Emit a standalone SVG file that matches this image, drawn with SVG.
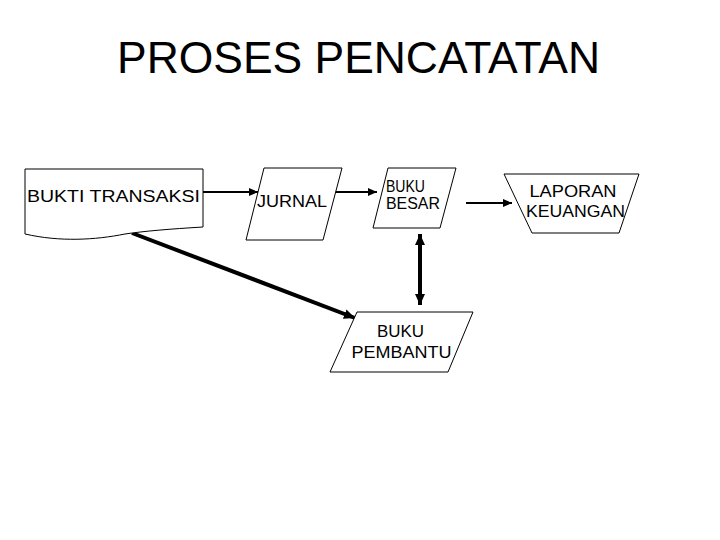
<svg xmlns="http://www.w3.org/2000/svg" width="720" height="540" viewBox="0 0 720 540">
<defs>
<style>
.shape{fill:#fff;stroke:#000;stroke-width:1}
.lbl{font-family:"Liberation Sans","DejaVu Sans",sans-serif;font-size:16px;fill:#000}
.thin{stroke:#000;stroke-width:2;fill:none}
.thick{stroke:#000;stroke-width:4;fill:none}
</style>
<marker id="ah" markerUnits="userSpaceOnUse" markerWidth="10" markerHeight="8" refX="9" refY="4" orient="auto">
<path d="M0,0 L9,4 L0,8 Z" fill="#000"/>
</marker>
<marker id="ahb" markerUnits="userSpaceOnUse" markerWidth="12" markerHeight="10" refX="11" refY="5" orient="auto">
<path d="M0,0 L11,5 L0,10 Z" fill="#000"/>
</marker>
<marker id="ahs" markerUnits="userSpaceOnUse" markerWidth="12" markerHeight="10" refX="11" refY="5" orient="auto-start-reverse">
<path d="M0,0 L11,5 L0,10 Z" fill="#000"/>
</marker>
</defs>
<rect width="720" height="540" fill="#fff"/>
<text x="358.5" y="73" text-anchor="middle" font-family="Liberation Sans, Arial, sans-serif" font-size="45" textLength="483" lengthAdjust="spacingAndGlyphs">PROSES PENCATATAN</text>

<g id="connectors">
<path class="thin" d="M203,192 L258,192" marker-end="url(#ah)"/>
<path class="thin" d="M327,192 L377,192" marker-end="url(#ah)"/>
<path class="thin" d="M466,203 L512,203" marker-end="url(#ah)"/>
<path class="thick" d="M132,233 L355,318" marker-end="url(#ahb)"/>
<path class="thick" d="M420,234 L420,305" marker-start="url(#ahs)" marker-end="url(#ahs)"/>
</g>

<g id="bukti-transaksi">
<path class="shape" d="M25,169 L203,169 L203,227 C170,229 145,231 125,234 C95,240 60,242 25,234 Z"/>
<text class="lbl" x="27" y="202" textLength="173" lengthAdjust="spacingAndGlyphs">BUKTI TRANSAKSI</text>
</g>

<g id="jurnal">
<path class="shape" d="M264,168 L342,168 L323,240 L246,240 Z"/>
<text class="lbl" x="257" y="207" textLength="70" lengthAdjust="spacingAndGlyphs">JURNAL</text>
</g>

<g id="buku-besar">
<path class="shape" d="M388,168 L456,168 L440,228 L373,228 Z"/>
<text class="lbl" x="405.5" y="192" text-anchor="middle" textLength="39" lengthAdjust="spacingAndGlyphs">BUKU</text>
<text class="lbl" x="413" y="209" text-anchor="middle" textLength="54" lengthAdjust="spacingAndGlyphs">BESAR</text>
</g>

<g id="laporan-keuangan">
<path class="shape" d="M504,174 L639,174 L619,233 L532,233 Z"/>
<text class="lbl" x="573" y="197" text-anchor="middle" textLength="87" lengthAdjust="spacingAndGlyphs">LAPORAN</text>
<text class="lbl" x="575.5" y="217" text-anchor="middle" textLength="99" lengthAdjust="spacingAndGlyphs">KEUANGAN</text>
</g>

<g id="buku-pembantu">
<path class="shape" d="M357,312 L473,312 L448,372 L330,372 Z"/>
<text class="lbl" x="400.5" y="337" text-anchor="middle" textLength="47" lengthAdjust="spacingAndGlyphs">BUKU</text>
<text class="lbl" x="401.5" y="358" text-anchor="middle" textLength="100" lengthAdjust="spacingAndGlyphs">PEMBANTU</text>
</g>
</svg>
